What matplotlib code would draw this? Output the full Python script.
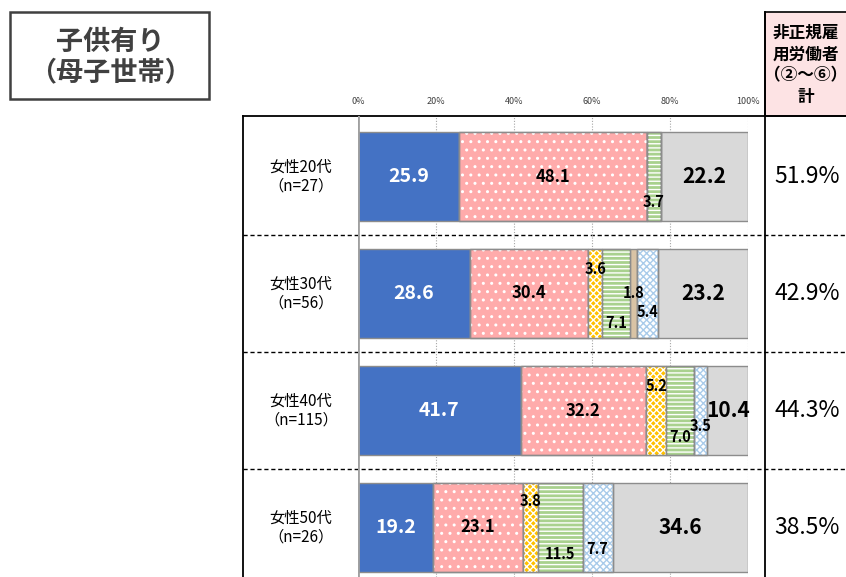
import numpy as np
import matplotlib
matplotlib.use("Agg")
import matplotlib.pyplot as plt

plt.rcParams['font.family'] = ['Noto Sans CJK JP', 'DejaVu Sans']

# 年代別の就業形態構成比（%）
groups = ["女性20代\n（n=27）", "女性30代\n（n=56）", "女性40代\n（n=115）", "女性50代\n（n=26）"]
seikoyo = [25.9, 28.6, 41.7, 19.2]      # 正規
hiseiki2 = [48.1, 30.4, 32.2, 23.1]
hiseiki3 = [0.0, 3.6, 5.2, 3.8]
hiseiki4 = [3.7, 7.1, 7.0, 11.5]
hiseiki5 = [0.0, 1.8, 0.0, 0.0]
sonota6 = [0.0, 5.4, 3.5, 7.7]
sonota = [22.2, 23.2, 10.4, 34.6]
hiseiki_total = ["51.9%", "42.9%", "44.3%", "38.5%"]
xticks = [0, 20, 40, 60, 80, 100]

series = [seikoyo, hiseiki2, hiseiki3, hiseiki4, hiseiki5, sonota6, sonota]
# (塗り, ハッチ色, ハッチ)
styles = [
    ("#4472C4", None, None),
    ("#FFABAB", "white", ".."),
    ("#FFC000", "white", "xxxxx"),
    ("#A9D18E", "white", "----"),
    ("#D9C3A5", None, None),
    ("white", "#A9CBEA", "xxxxx"),
    ("#D9D9D9", None, None),
]
# ラベルの縦位置ずらし（行単位）
label_dy = {(0, 3): 0.22,
            (1, 2): -0.21, (1, 3): 0.25, (1, 5): 0.155,
            (2, 2): -0.21, (2, 3): 0.23, (2, 5): 0.13,
            (3, 2): -0.23, (3, 3): 0.23, (3, 5): 0.18}

W, H = 846, 577
fig = plt.figure(figsize=(W / 100, H / 100), dpi=100)

# 枠・見出し用（ピクセル座標）
bg = fig.add_axes([0, 0, 1, 1])
bg.set_xlim(0, W)
bg.set_ylim(H, 0)
bg.axis("off")

bg.add_patch(plt.Rectangle((10, 12), 199, 87, fill=False, ec="#404040", lw=1.8))
bg.text(110, 57, "子供有り\n（母子世帯）", ha="center", va="center", fontsize=19.5,
        fontweight="bold", color="#404040", linespacing=1.1)

bg.add_patch(plt.Rectangle((765, 12), 100, 104, fc="#FDE3E4", ec="black", lw=1.2))
bg.text(806, 65, "非正規雇\n用労働者\n（②～⑥）\n計", ha="center", va="center",
        multialignment="center", fontsize=12, fontweight="bold", color="black",
        linespacing=1.25)

bg.plot([243, W], [116, 116], color="black", lw=1.3)
bg.plot([243, 243], [116, H], color="black", lw=1.3)
bg.plot([765, 765], [12, H], color="black", lw=1.3)

row_top, row_h = 116, 117.0
centers = [row_top + row_h * (i + 0.5) + 2 for i in range(len(groups))]
for i in range(1, len(groups)):
    y = row_top + row_h * i + 2
    bg.plot([243, W], [y, y], color="black", lw=1.0, ls=(0, (3, 2)))
for c, g, t in zip(centers, groups, hiseiki_total):
    bg.text(301, c, g, ha="center", va="center", fontsize=11, linespacing=1.15)
    bg.text(807, c, t, ha="center", va="center", fontsize=16.5)

# 帯グラフ
ax = fig.add_axes([358 / W, 0, 390 / W, (H - 116) / H])
ax.set_facecolor("none")
ax.set_xlim(0, 100)
top = -0.5 - 2 / row_h
ax.set_ylim(top + (H - 116) / row_h, top)
y = np.arange(len(groups))
left = np.zeros(len(groups))
for k, (vals, (fc, hc, hatch)) in enumerate(zip(series, styles)):
    vals = np.array(vals)
    ax.barh(y, vals, left=left, height=0.765, color=fc, edgecolor="#8C8C8C",
            lw=1.0, zorder=2)
    if hatch:
        ax.barh(y, vals, left=left, height=0.765, color="none", edgecolor=hc,
                hatch=hatch, lw=0, zorder=3)
        ax.barh(y, vals, left=left, height=0.765, color="none",
                edgecolor="#8C8C8C", lw=1.0, zorder=3)
    for i, v in enumerate(vals):
        if v <= 0:
            continue
        cx = left[i] + v / 2
        cy = y[i] + label_dy.get((i, k), 0)
        if k == 0:
            size, col = 14, "white"
        elif k == 6:
            size, col = 15, "black"
        elif k == 1:
            size, col = 12, "black"
        else:
            size, col = 10.5, "black"
        ax.text(cx, cy, f"{v:.1f}", ha="center", va="center", fontsize=size,
                fontweight="bold", color=col, zorder=5)
    left += vals

ax.axvline(0, color="#A0A0A0", lw=2, zorder=4)
ax.xaxis.tick_top()
ax.set_xticks(xticks)
ax.set_xticklabels([f"{t}%" for t in xticks], fontsize=6.5, color="#404040")
ax.tick_params(axis="x", length=0, pad=7)
ax.set_yticks([])
ax.grid(axis="x", color="#A6A6A6", ls=(0, (1, 1.5)), lw=0.8, zorder=0)
for s in ax.spines.values():
    s.set_visible(False)

fig.savefig("out.png", dpi=100)
